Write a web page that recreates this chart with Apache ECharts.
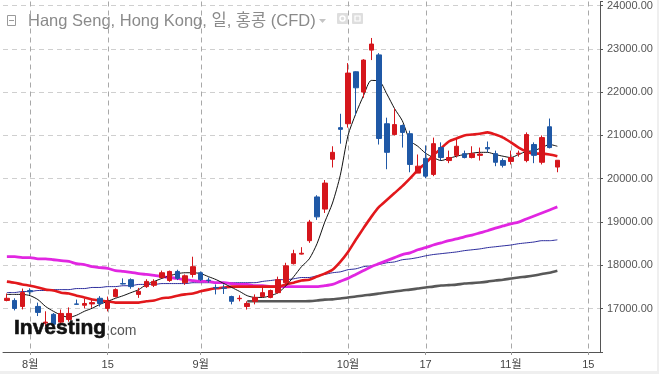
<!DOCTYPE html>
<html><head><meta charset="utf-8">
<script src="https://cdn.jsdelivr.net/npm/echarts@6/dist/echarts.min.js"></script>
<style>html,body{margin:0;padding:0;background:#fff}#c{width:659px;height:374px}</style>
</head><body><div id="c"></div>
<script>
// ---- data ----
const dates = [
'07-29','07-30','07-31','08-01','08-02','08-05','08-06','08-07','08-08','08-09',
'08-12','08-13','08-14','08-15','08-16','08-19','08-20','08-21','08-22','08-23',
'08-26','08-27','08-28','08-29','08-30','09-02','09-03','09-04','09-05','09-06',
'09-09','09-10','09-11','09-12','09-13','09-16','09-19','09-20','09-23','09-24',
'09-25','09-26','09-27','09-30','10-02','10-03','10-04','10-07','10-08','10-09',
'10-10','10-14','10-15','10-16','10-17','10-18','10-21','10-22','10-23','10-24',
'10-25','10-28','10-29','10-30','10-31','11-01','11-04','11-05','11-06','11-07',
'11-08','11-11','11-12','11-13','11-14','11-15','11-18'];
const tickDates = ['08-01','08-15','09-02','10-02','10-17','11-01','11-15'];
const tickTexts = ['8월','15','9월','10월','17','11월','15'];
const yTicks = [17000,18000,19000,20000,21000,22000,23000,24000];

const opens  = [17190,17190,17052,17420,17052,16670,16870,16690,16750,17110,17080,17110,17240,17006,17280,17580,17670,17330,17510,17540,17720,17650,17860,17600,17790,17830,17660,17490,17480,17280,17230,17050,17170,17280,17260,17370,17600,18040,18260,18570,19580,19300,20450,21180,21270,22470,22000,22970,22860,21270,21020,21230,21040,20130,20470,20100,20720,20420,20540,20580,20490,20540,20720,20580,20420,20400,20570,20420,20790,20380,21200,20270];
const closes = [17240,17006,17373,17390,16914,16690,16640,16890,16890,17100,17120,17140,17120,17167,17440,17570,17510,17400,17630,17630,17830,17860,17700,17760,17970,17670,17650,17480,17470,17170,17240,17120,17260,17370,17420,17670,17990,18270,18280,19000,19120,19900,20610,21140,22440,22100,22740,23110,20930,20610,21250,21070,20330,20290,20060,20810,20490,20490,20750,20490,20580,20570,20690,20380,20310,20490,20590,21020,20540,20950,20720,20426.93];
const lows   = [17170,16960,16983,17320,16830,16600,16600,16640,16700,17090,17010,17020,17050,16937,17260,17560,17460,17250,17480,17500,17700,17620,17660,17550,17720,17640,17600,17330,17340,17100,17170,16980,17100,17260,17240,17350,17560,18020,18250,18520,19050,19210,20260,20810,21180,21460,21870,22740,20790,20220,21000,20720,20150,20130,20010,20060,20420,20360,20490,20470,20470,20420,20610,20290,20260,20330,20510,20380,20360,20330,20700,20150];
const highs  = [17350,17240,17465,17470,17140,16940,16900,16980,17030,17210,17230,17200,17290,17280,17470,17700,17700,17480,17680,17680,17880,17880,17900,17790,18200,17860,17720,17560,17560,17300,17310,17170,17330,17510,17440,17740,18060,18360,18420,19050,19620,19970,20750,21500,22670,22480,22760,23250,22900,21410,21620,21250,21110,20560,20770,20950,20840,20650,20930,20650,20750,20720,20860,20650,20470,20650,20650,21070,20840,21000,21390,20430];

const ma5   = [17330,17330,17330,17300,17210,17050,16940,16850,16800,16850,16940,17010,17100,17170,17240,17300,17370,17440,17560,17630,17700,17760,17810,17830,17830,17810,17740,17670,17580,17490,17400,17300,17260,17260,17300,17370,17530,17740,17970,18150,18500,19000,19440,20080,21000,21500,21920,22270,22260,21960,21620,21340,20880,20750,20590,20490,20420,20470,20520,20560,20590,20610,20610,20560,20520,20490,20560,20630,20650,20720,20790,20750];
const ma20  = [17625,17600,17560,17530,17490,17440,17420,17370,17350,17300,17260,17210,17190,17170,17140,17140,17140,17140,17170,17190,17240,17260,17300,17330,17350,17400,17440,17470,17490,17510,17510,17510,17510,17510,17510,17510,17560,17600,17650,17670,17740,17810,17900,18080,18310,18590,18860,19120,19350,19510,19670,19830,20010,20200,20360,20540,20700,20860,20930,21000,21020,21040,21070,21020,20950,20840,20720,20630,20580,20580,20560,20520];
const ma50  = [18200,18200,18180,18180,18150,18150,18130,18110,18090,18040,18020,17970,17950,17930,17880,17860,17840,17810,17790,17770,17740,17720,17700,17670,17650,17630,17630,17600,17600,17580,17560,17560,17530,17530,17510,17510,17510,17510,17510,17510,17510,17530,17560,17630,17700,17790,17880,17970,18040,18110,18180,18250,18290,18360,18410,18470,18520,18570,18610,18660,18700,18750,18800,18860,18910,18960,19000,19070,19140,19210,19280,19350];
const ma100 = [17373,17373,17396,17396,17420,17420,17440,17440,17440,17465,17465,17490,17490,17510,17510,17530,17530,17560,17560,17560,17580,17580,17580,17580,17600,17600,17600,17600,17600,17600,17600,17600,17600,17630,17650,17670,17670,17690,17720,17720,17760,17790,17830,17850,17900,17920,17970,17990,18020,18060,18080,18130,18150,18180,18220,18250,18270,18290,18310,18340,18360,18380,18410,18430,18450,18470,18500,18520,18540,18570,18570,18590];
const ma200 = [null,null,null,null,null,null,null,null,null,null,null,null,null,null,null,null,null,null,null,null,null,null,null,null,null,null,null,null,null,null,null,
 17170,17170,17170,17170,17170,17170,17170,17170,17175,17190,17210,17215,17235,17260,17280,17305,17325,17350,17375,17395,17420,17440,17465,17490,17510,17535,17545,17555,17580,17590,17605,17625,17650,17670,17695,17720,17740,17765,17800,17830,17875];
const lastPrice = 20426.93;

// ---- chart ----
const candles = opens.map((o, i) => [o, closes[i], lows[i], highs[i]]);
const tickIdx = tickDates.map(d => dates.indexOf(d));
const isTick = (i) => tickIdx.indexOf(i) >= 0;
const RED = '#d5161c', BLUE = '#1f58a6';
const FONT = "'Liberation Sans', Arial, 'Noto Sans CJK KR', sans-serif";
const GRID = {left: 3, right: 59, top: 0, bottom: 22};
const Y_MIN = 16000, Y_MAX = 24092;

const chart = echarts.init(document.getElementById('c'), null, {renderer: 'canvas'});
const mk = (name, data, color, width, z) => ({
  name, type: 'line', data, symbol: 'none', smooth: 0.25, z: z || 2,
  lineStyle: {color, width}, connectNulls: false, silent: true
});
const option = {
  animation: false,
  backgroundColor: '#fff',
  grid: GRID,
  xAxis: {
    type: 'category', data: dates, boundaryGap: true,
    axisLine: {lineStyle: {color: '#555', width: 1}},
    axisTick: {show: true, alignWithLabel: true, length: 3, interval: (i) => isTick(i), lineStyle: {color: '#999'}},
    axisLabel: {interval: (i) => isTick(i), margin: 7, fontSize: 11, color: '#444', fontFamily: FONT,
      formatter: (v) => { const k = tickDates.indexOf(v); return k >= 0 ? tickTexts[k] : ''; }},
    splitLine: {show: false}
  },
  yAxis: {
    type: 'value', position: 'right', min: Y_MIN, max: Y_MAX, interval: 1000, scale: true,
    axisLine: {show: true, lineStyle: {color: '#555', width: 1}},
    axisTick: {show: true, length: 3, lineStyle: {color: '#555'}},
    axisLabel: {margin: 7, fontSize: 11, color: '#555', fontFamily: FONT,
      formatter: (v) => yTicks.indexOf(v) >= 0 ? v.toFixed(2) : ''},
    splitLine: {show: true, showMinLine: false, showMaxLine: false, lineStyle: {color: '#cfcfcf', type: [5, 4], width: 1}}
  },
  series: [
    {
      name: 'vgrid', type: 'custom', z: 1, silent: true, clip: false,
      data: tickIdx.map(i => [i]),
      encode: {x: 0},
      renderItem: (params, api) => {
        const top = api.coord([api.value(0), Y_MAX]);
        const bot = api.coord([api.value(0), Y_MIN]);
        const x = Math.round(top[0]) + 0.5;
        return {type: 'line', shape: {x1: x, y1: top[1], x2: x, y2: bot[1]},
          style: {stroke: '#a8a8a8', lineWidth: 1, lineDash: [5, 4], fill: null}};
      }
    },
    mk('MA200', ma200, '#585858', 2.6),
    mk('MA100', ma100, '#2b2b9c', 1),
    mk('MA50', ma50, '#e126e1', 2.8),
    mk('MA20', ma20, '#e2181c', 2.6),
    mk('MA5', ma5, '#111111', 1),
    {
      name: 'HSI', type: 'candlestick', data: candles, barWidth: 5, z: 3,
      itemStyle: {color: RED, color0: BLUE, borderColor: RED, borderColor0: BLUE, borderWidth: 1},
      markLine: {silent: true, symbol: ['none', 'none'], lineStyle: {opacity: 0},
        label: {show: true, position: 'end', distance: 0, formatter: lastPrice.toFixed(2),
          backgroundColor: '#3b7c1f', color: '#ffffff', fontWeight: 'bold', fontSize: 11,
          fontFamily: FONT, padding: [2, 5, 2, 5]},
        data: [{yAxis: lastPrice}]}
    }
  ],
  graphic: [
    {type: 'rect', shape: {x: 7.5, y: 15.5, width: 8, height: 10}, style: {fill: 'none', stroke: '#9a9a9a', lineWidth: 1}},
    {type: 'rect', shape: {x: 9, y: 20, width: 5, height: 1}, style: {fill: '#9a9a9a'}},
    {type: 'text', x: 28, y: 21.5, style: {text: 'Hang Seng, Hong Kong, 일, 홍콩 (CFD)', fill: '#8a8a8a',
      font: "16.5px " + FONT, verticalAlign: 'middle', align: 'left'}},
    {type: 'polygon', shape: {points: [[319, 19], [326, 19], [322.5, 23]]}, style: {fill: '#c4c4c4'}},
    {type: 'rect', shape: {x: 337, y: 13, width: 11, height: 11, r: 1}, style: {fill: '#dedede'}},
    {type: 'circle', shape: {cx: 342.5, cy: 18.5, r: 2.5}, style: {fill: 'none', stroke: '#fff', lineWidth: 1.5}},
    {type: 'rect', shape: {x: 352, y: 13, width: 11, height: 11, r: 1}, style: {fill: '#dedede'}},
    {type: 'rect', shape: {x: 355, y: 16, width: 5, height: 5}, style: {fill: 'none', stroke: '#fff', lineWidth: 1.2}},
    {type: 'text', x: 14, y: 328, z: 10, style: {text: 'Investing', fill: '#111', stroke: '#111', lineWidth: 0.6,
      font: "bold 21px " + FONT, verticalAlign: 'middle', align: 'left'}},
    {type: 'text', x: 106, y: 331, z: 10, style: {text: '.com', fill: '#555', font: "14px " + FONT, verticalAlign: 'middle', align: 'left'}},
    {type: 'rect', shape: {x: 0, y: 371, width: 659, height: 3}, style: {fill: '#efefef'}},
    {type: 'rect', shape: {x: 657, y: 0, width: 2, height: 374}, style: {fill: '#efefef'}}
  ]
};
chart.setOption(option);
</script></body></html>
